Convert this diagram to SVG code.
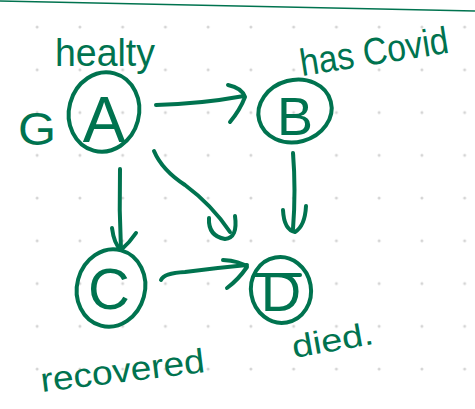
<svg xmlns="http://www.w3.org/2000/svg" width="475" height="409" viewBox="0 0 475 409">
<defs>
<style>
.ink{fill:none;stroke:#00734f;stroke-width:4;stroke-linecap:round;stroke-linejoin:round}
.t{fill:#00734f;font-family:"Liberation Sans","DejaVu Sans",sans-serif}
.dot{fill:#d4d4d4}
</style>
<pattern id="grid" x="-5.6" y="-15.7" width="42.75" height="42.75" patternUnits="userSpaceOnUse">
<circle cx="42.75" cy="42.75" r="1.5" class="dot"/>
<circle cx="0" cy="0" r="1.5" class="dot"/>
<circle cx="42.75" cy="0" r="1.5" class="dot"/>
<circle cx="0" cy="42.75" r="1.5" class="dot"/>
</pattern>
</defs>
<rect width="475" height="409" fill="#ffffff"/>
<rect width="475" height="409" fill="url(#grid)"/>
<path d="M0 1 L475 11" stroke="#00734f" stroke-width="1.5" fill="none"/>
<g id="connectors">
<path class="ink" d="M156 105 Q200 104 244 96"/>
<path class="ink" d="M228 85 Q242 88 245 97 Q240 110 230 122"/>
<path class="ink" d="M120 169 Q119 210 121 250"/>
<path class="ink" d="M112 228 Q114 244 121 250 Q130 242 136 233"/>
<path class="ink" d="M154 151 Q162 170 185 185 Q212 205 230 232"/>
<path class="ink" d="M209 218 Q208 236 225 239 Q238 238 235 216"/>
<path class="ink" d="M293 153 Q296 190 293 229"/>
<path class="ink" d="M283 210 Q284 230 295 232 Q305 226 306 206"/>
<path class="ink" d="M161 280 Q164 273 185 272 Q215 268 247 265"/>
<path class="ink" d="M223 260 Q240 261 247 267 Q238 280 227 288"/>
</g>
<g id="node-G">
<text class="t" x="18" y="145" font-size="46" textLength="38" lengthAdjust="spacingAndGlyphs">G</text>
</g>
<g id="node-A">
<ellipse class="ink" cx="104" cy="112" rx="35" ry="40" transform="rotate(15 104 112)"/>
<text class="t" x="104" y="142" font-size="64" text-anchor="middle">A</text>
<text class="t" x="55" y="66" font-size="38" textLength="100" lengthAdjust="spacingAndGlyphs">healty</text>
</g>
<g id="node-B">
<ellipse class="ink" cx="295" cy="111" rx="37" ry="31" transform="rotate(-15 295 111)"/>
<text class="t" x="295" y="135" font-size="54" text-anchor="middle">B</text>
<text class="t" x="302" y="76" font-size="38" textLength="150" lengthAdjust="spacingAndGlyphs" transform="rotate(-9 302 76)">has Covid</text>
</g>
<g id="node-C">
<ellipse class="ink" cx="111" cy="288" rx="34" ry="39" transform="rotate(15 111 288)"/>
<text class="t" x="109" y="309" font-size="58" text-anchor="middle">C</text>
<text class="t" x="42" y="392" font-size="34" textLength="165" lengthAdjust="spacingAndGlyphs" transform="rotate(-7 42 392)">recovered</text>
</g>
<g id="node-D">
<ellipse class="ink" cx="281" cy="290" rx="30" ry="33" transform="rotate(-10 281 290)"/>
<text class="t" x="281" y="311" font-size="56" text-anchor="middle">D</text>
<path class="ink" d="M255 275 L300 275"/>
<text class="t" x="294" y="358" font-size="32" textLength="82" lengthAdjust="spacingAndGlyphs" transform="rotate(-10 294 358)">died.</text>
</g>
</svg>
